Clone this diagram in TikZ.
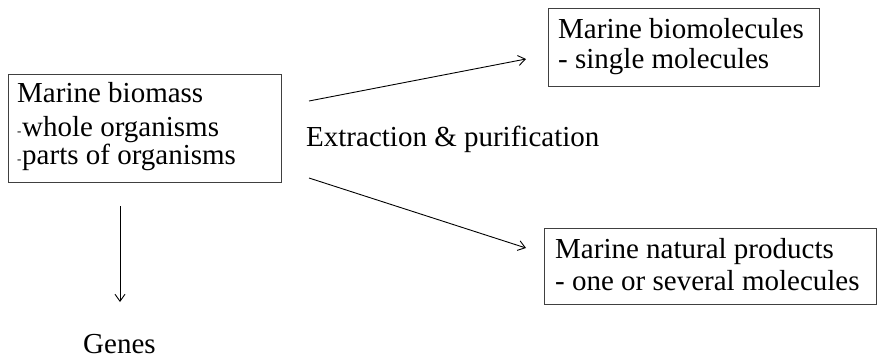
\documentclass[tikz,border=0pt]{standalone}
\usepackage{fontspec}
\setmainfont{Liberation Serif}
\usetikzlibrary{arrows.meta}
\newcommand{\smalldash}{\raisebox{1pt}{\fontsize{13}{13}\selectfont -}\hspace{0.7pt}}
\begin{document}
\begin{tikzpicture}[x=1pt,y=-1pt,
  box/.style={draw=black!75, line width=0.9pt, anchor=north west, inner sep=0pt},
  lbl/.style={font=\fontsize{29}{31}\selectfont, inner sep=0pt, anchor=base west},
  arr/.style={line width=0.9pt, -{Straight Barb[length=7pt,width=10pt,line width=0.9pt]}}]
\useasboundingbox (0,0) rectangle (878,360);
% boxes
\node[box, minimum width=273pt, minimum height=108pt] (bio) at (8,74) {};
\node[box, minimum width=271pt, minimum height=78pt] (mol) at (548,8) {};
\node[box, minimum width=332pt, minimum height=76pt] (nat) at (544,228) {};
% box texts
\node[lbl] (bio1) at (17,102) {Marine biomass};
\node[lbl] (bio2) at (17,136) {\smalldash whole organisms};
\node[lbl] (bio3) at (17,164) {\smalldash parts of organisms};
\node[lbl] (mol1) at (558,38) {Marine biomolecules};
\node[lbl] (mol2) at (558,68) {- single molecules};
\node[lbl] (nat1) at (555,258) {Marine natural products};
\node[lbl] (nat2) at (555,290) {- one or several molecules};
% free labels
\node[lbl] (ext) at (306,146) {Extraction \& purification};
\node[lbl] (gen) at (83,353) {Genes};
% connectors
\coordinate (a1s) at (309,101);
\coordinate (a1e) at (526,59);
\coordinate (a2s) at (309,178);
\coordinate (a2e) at (526,248);
\coordinate (a3s) at (120,206);
\coordinate (a3e) at (120,302);
\draw[arr] (a1s) -- (a1e);
\draw[arr] (a2s) -- (a2e);
\draw[arr] (a3s) -- (a3e);
\end{tikzpicture}
\end{document}
